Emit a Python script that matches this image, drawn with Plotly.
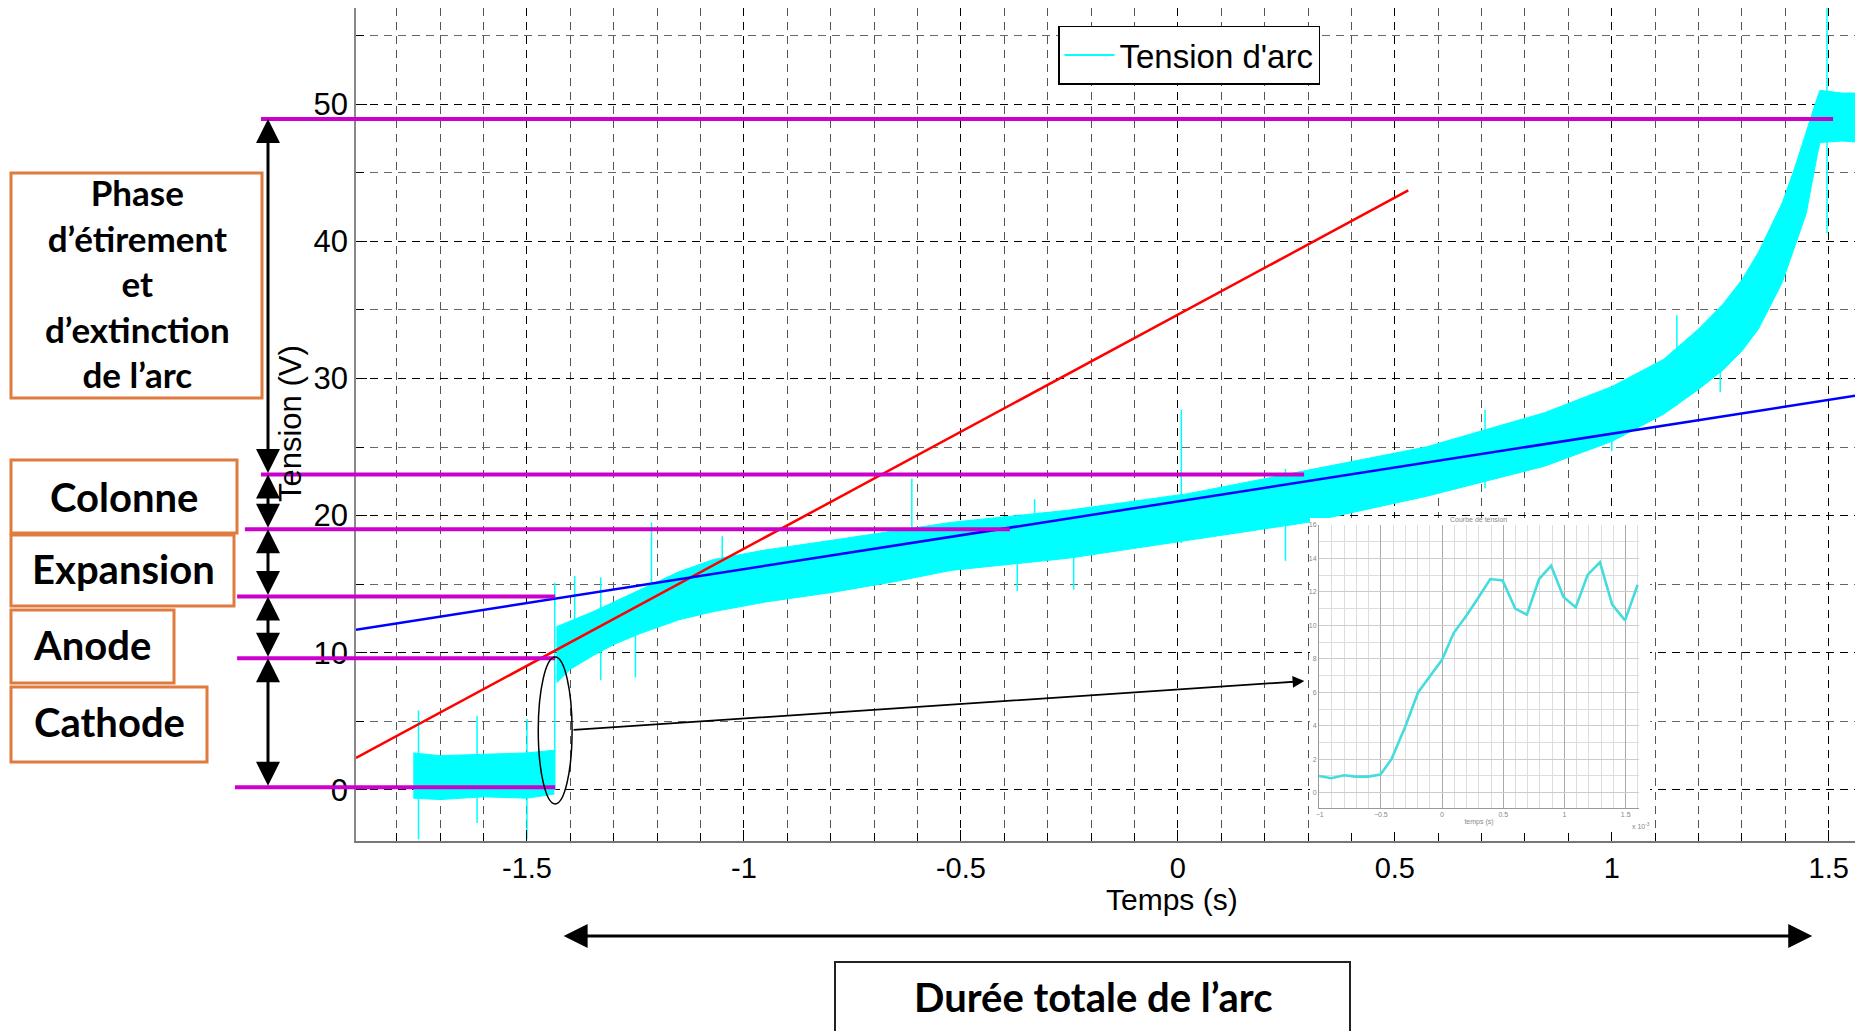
import plotly.graph_objects as go

# ---------------- axes ----------------
T_RANGE = [-1.894, 1.579]
V_RANGE = [-3.72, 57.0]
x_tick_vals = [-1.5, -1, -0.5, 0, 0.5, 1, 1.5]
x_tick_text = ["-1.5", "-1", "-0.5", "0", "0.5", "1", "1.5"]
y_tick_vals = [0, 10, 20, 30, 40, 50]
y_tick_text = ["0", "10", "20", "30", "40", "50"]

# ---------------- arc voltage (noise band envelopes) ----------------
cath_t = [-1.762, -1.70, -1.60, -1.50, -1.437]
cath_lo = [-0.6, -0.7, -0.5, -0.6, -0.3]
cath_hi = [2.7, 2.5, 2.6, 2.7, 2.9]

arc_t = [-1.432, -1.40, -1.347, -1.30, -1.239, -1.15, -1.07, -0.95, -0.797, -0.65, -0.524,
         -0.25, 0.024, 0.298, 0.572, 0.845, 1.0, 1.12, 1.20, 1.256, 1.30, 1.338, 1.393,
         1.42, 1.448, 1.475, 1.48, 1.53, 1.579]
arc_lo = [7.8, 8.8, 9.8, 10.6, 11.4, 12.4, 13.0, 13.7, 14.4, 15.2, 16.0,
          16.9, 18.2, 19.5, 21.4, 23.6, 25.4, 27.4, 29.2, 30.6, 32.0, 33.6, 37.0,
          39.4, 42.0, 46.5, 47.2, 47.3, 47.2]
arc_hi = [11.9, 12.3, 13.0, 13.7, 14.6, 15.9, 16.8, 17.5, 18.2, 18.9, 19.5,
          20.4, 21.6, 23.3, 25.0, 27.5, 29.4, 31.4, 33.6, 35.4, 37.2, 39.2, 42.8,
          45.2, 48.0, 50.6, 51.0, 50.8, 50.8]

spike_t = [-1.75, -1.615, -1.50, -1.436, -1.39, -1.33, -1.25, -1.213, -1.05, -0.613, -0.37,
           -0.33, -0.24, 0.008, 0.248, 0.708, 1.0, 1.15, 1.25, 1.496]
spike_lo = [-3.6, -2.4, -3.6, 0.0, 9.0, 8.0, 8.2, 13.0, 14.0, 16.0, 14.5,
            17.0, 14.6, 18.0, 16.7, 22.0, 24.7, 28.0, 29.0, 40.6]
spike_hi = [5.8, 5.4, 5.2, 15.1, 15.6, 15.5, 13.0, 19.5, 18.5, 22.7, 18.0,
            21.2, 19.0, 27.7, 23.4, 27.7, 28.0, 34.6, 33.0, 57.0]

# ---------------- fitted lines ----------------
red_t = [-1.894, 0.531]
red_v = [2.33, 43.7]
blue_t = [-1.894, 1.579]
blue_v = [11.68, 28.83]

# ---------------- phase boundaries ----------------
phase_levels = [48.9, 23.0, 19.0, 14.1, 9.6, 0.2]
phase_start_t = [-2.113, -2.113, -2.150, -2.168, -2.168, -2.173]
phase_end_t = [1.51, 0.291, -0.387, -1.435, -1.435, -1.435]
phase_names = ["Phase<br>d’étirement<br>et<br>d’extinction<br>de l’arc", "Colonne", "Expansion", "Anode", "Cathode"]

# ---------------- inset (zoom on the arc ignition) ----------------
inset_t = [-1.005, -0.905, -0.80, -0.707, -0.603, -0.503, -0.413, -0.30, -0.196, -0.095,
           0.0, 0.095, 0.204, 0.30, 0.394, 0.495, 0.598, 0.693, 0.793, 0.891,
           0.992, 1.092, 1.19, 1.29, 1.39, 1.495, 1.598]
inset_v = [1.0, 0.86, 1.04, 0.96, 0.96, 1.08, 2.0, 3.95, 5.99, 7.0,
           7.94, 9.54, 10.64, 11.7, 12.77, 12.69, 11.0, 10.64, 12.77, 13.57,
           11.7, 11.08, 13.03, 13.77, 11.24, 10.3, 12.43]
inset_x_ticks = [-1, -0.5, 0, 0.5, 1, 1.5]
inset_y_ticks = [0, 2, 4, 6, 8, 10, 12, 14, 16]

OFF = 8                      # page body margin
W, H = 1863 - OFF, 1031 - OFF
ML, MR, MT, MB = 356 - OFF, 0, 0, H - (841 - OFF)
PW, PH = W - ML - MR, H - MT - MB


def px_x(p):
    """screen pixel x -> paper"""
    return (p - OFF - ML) / PW


def px_y(p):
    """screen pixel y -> paper"""
    return 1 - (p - OFF - MT) / PH


def t_to_paper(t):
    return (t - T_RANGE[0]) / (T_RANGE[1] - T_RANGE[0])


FONT = "Liberation Sans, Arial, sans-serif"
BOLD = "Lato, Calibri, sans-serif"
CYAN = "#00FFFF"
MAG = "#CC00CC"
ORANGE = "#E07B3F"

fig = go.Figure()

# cathode band
fig.add_trace(go.Scatter(x=cath_t, y=cath_lo, mode="lines", line=dict(color=CYAN, width=1),
                         showlegend=False, hoverinfo="skip"))
fig.add_trace(go.Scatter(x=cath_t, y=cath_hi, mode="lines", line=dict(color=CYAN, width=1),
                         fill="tonexty", fillcolor=CYAN, showlegend=False, hoverinfo="skip"))
# main band
fig.add_trace(go.Scatter(x=arc_t, y=arc_lo, mode="lines", line=dict(color=CYAN, width=1),
                         showlegend=False, hoverinfo="skip"))
fig.add_trace(go.Scatter(x=arc_t, y=arc_hi, mode="lines", line=dict(color=CYAN, width=1),
                         fill="tonexty", fillcolor=CYAN, showlegend=False, hoverinfo="skip"))
# spikes
sx, sy = [], []
for t, lo, hi in zip(spike_t, spike_lo, spike_hi):
    sx += [t, t, None]
    sy += [lo, hi, None]
fig.add_trace(go.Scatter(x=sx, y=sy, mode="lines", line=dict(color=CYAN, width=1.5),
                         showlegend=False, hoverinfo="skip"))
# legend entry
fig.add_trace(go.Scatter(x=[None], y=[None], mode="lines", name="Tension d'arc",
                         line=dict(color=CYAN, width=2)))
# fitted lines
fig.add_trace(go.Scatter(x=red_t, y=red_v, mode="lines", line=dict(color="#FF0000", width=2.5),
                         showlegend=False))
fig.add_trace(go.Scatter(x=blue_t, y=blue_v, mode="lines", line=dict(color="#0000FF", width=2.5),
                         showlegend=False))

# white background for inset picture (separate subplot gets its own bg)
fig.add_trace(go.Scatter(x=[None], y=[None], xaxis="x2", yaxis="y2", showlegend=False))
# inset curve
fig.add_trace(go.Scatter(x=inset_t, y=inset_v, xaxis="x3", yaxis="y3", mode="lines",
                         line=dict(color="#45DCDC", width=2.6), showlegend=False))

grid_major = dict(gridcolor="#000000", gridwidth=1.3, griddash="8px,6px")
grid_minor = dict(gridcolor="#555555", gridwidth=1, griddash="8px,6px")

fig.update_layout(
    width=W, height=H,
    margin=dict(l=ML, r=MR, t=MT, b=MB, autoexpand=False),
    paper_bgcolor="white", plot_bgcolor="white",
    font=dict(family=FONT, color="black"),
    xaxis=dict(range=T_RANGE, domain=[0, 1], tickmode="array", tickvals=x_tick_vals, ticktext=x_tick_text,
               ticks="inside", ticklen=11, tickcolor="#000", tickwidth=1.3,
               tickfont=dict(size=29, family=FONT), showline=True, linecolor="#777777", linewidth=2,
               zeroline=False, showgrid=True, ticklabelstandoff=0, **grid_major,
               minor=dict(tickmode="linear", tick0=0, dtick=0.1, ticks="inside", ticklen=8,
                          tickcolor="#000", showgrid=True, **grid_minor)),
    yaxis=dict(range=V_RANGE, domain=[0, 1], tickmode="array", tickvals=y_tick_vals, ticktext=y_tick_text,
               ticks="inside", ticklen=11, tickcolor="#000", tickwidth=1.3,
               tickfont=dict(size=31, family=FONT), showline=True, linecolor="#888888", linewidth=1.5,
               zeroline=False, showgrid=True, ticklabelstandoff=0, **grid_major,
               minor=dict(tickmode="linear", tick0=0, dtick=5, ticks="inside", ticklen=8,
                          tickcolor="#000", showgrid=True, gridcolor="#666666", gridwidth=1,
                          griddash="8px,6px")),
    xaxis2=dict(domain=[px_x(1310), px_x(1650)], range=[0, 1], visible=False, anchor="y2"),
    yaxis2=dict(domain=[px_y(832), px_y(518)], range=[0, 1], visible=False, anchor="x2"),
    xaxis3=dict(domain=[px_x(1319), px_x(1639)], range=[-1.005, 1.609], anchor="y3",
                tickvals=inset_x_ticks, ticks="", tickfont=dict(size=7, color="#888"),
                showline=True, linecolor="#999", linewidth=1, zeroline=False,
                showgrid=True, gridcolor="#AAAAAA", gridwidth=1,
                minor=dict(tickmode="linear", tick0=0, dtick=0.1, showgrid=True, gridcolor="#DDDDDD"),
                title=dict(text="temps (s)", font=dict(size=7, color="#888"), standoff=2)),
    yaxis3=dict(domain=[px_y(807.7), px_y(525)], range=[-0.9, 16], anchor="x3",
                tickvals=inset_y_ticks, ticks="", tickfont=dict(size=7, color="#888"),
                showline=True, linecolor="#999", linewidth=1, zeroline=False,
                showgrid=True, gridcolor="#CCCCCC", gridwidth=1,
                minor=dict(tickmode="linear", tick0=0, dtick=1, showgrid=True, gridcolor="#DDDDDD")),
    legend=dict(x=px_x(1058), y=px_y(55), xanchor="left", yanchor="middle",
                bgcolor="white", bordercolor="black", borderwidth=1.5,
                font=dict(size=33, family=FONT), itemwidth=50, tracegroupgap=0),
)

shapes = []
annotations = []

# magenta phase boundaries
for lvl, t0, t1 in zip(phase_levels, phase_start_t, phase_end_t):
    shapes.append(dict(type="line", xref="paper", yref="y", x0=t_to_paper(t0), x1=t_to_paper(t1),
                       y0=lvl, y1=lvl, line=dict(color=MAG, width=4), layer="above"))

# vertical double arrows between boundaries
for top, bot in zip(phase_levels[:-1], phase_levels[1:]):
    annotations.append(dict(xref="paper", yref="y", x=px_x(268), y=top, ax=0, ay=bot,
                            axref="pixel", ayref="y", showarrow=True, arrowhead=2, startarrowhead=2,
                            arrowside="end+start", arrowsize=1.6, arrowwidth=3, arrowcolor="black",
                            text=""))

# orange boxes with labels
boxes = [(11, 173, 262, 398), (11, 460, 237, 533), (11, 535, 234, 606), (11, 610, 174, 683), (11, 687, 207, 762)]
for (x0, y0, x1, y1) in boxes:
    shapes.append(dict(type="rect", xref="paper", yref="paper", x0=px_x(x0), x1=px_x(x1),
                       y0=px_y(y0), y1=px_y(y1), line=dict(color=ORANGE, width=3),
                       fillcolor="white", layer="above"))
label_pos = [(137, 283), (124, 497), (123, 569), (92, 645), (109, 722)]
label_size = [35, 40, 40, 40, 40]
for txt, (xx, yy), fs in zip(phase_names, label_pos, label_size):
    annotations.append(dict(xref="paper", yref="paper", x=px_x(xx), y=px_y(yy), text="<b>" + txt + "</b>",
                            showarrow=False, font=dict(size=fs, family=BOLD, color="black"),
                            xanchor="center", yanchor="middle", align="center"))

# ellipse around ignition
shapes.append(dict(type="circle", xref="x", yref="y", x0=-1.474, x1=-1.396, y0=-1.02, y1=9.69,
                   line=dict(color="black", width=1.5), layer="above"))
# arrow from ellipse to inset
annotations.append(dict(xref="x", yref="y", x=0.2915, y=7.94, axref="x", ayref="y", ax=-1.396, ay=4.37,
                        showarrow=True, arrowhead=2, arrowsize=1.3, arrowwidth=1.8, arrowcolor="black", text=""))

# inset title and exponent
annotations.append(dict(xref="paper", yref="paper", x=px_x(1478), y=px_y(520), text="Courbe de tension",
                        showarrow=False, font=dict(size=7, color="#888"), xanchor="center", yanchor="middle"))
annotations.append(dict(xref="paper", yref="paper", x=px_x(1641), y=px_y(826), text="x 10<sup>-3</sup>",
                        showarrow=False, font=dict(size=7, color="#888"), xanchor="center", yanchor="middle"))

# axis titles
annotations.append(dict(xref="x", yref="paper", x=-0.013, y=px_y(899), text="Temps (s)", showarrow=False,
                        font=dict(size=30, family=FONT), xanchor="center", yanchor="middle"))
annotations.append(dict(xref="paper", yref="paper", x=px_x(290), y=px_y(424), text="Tension (V)",
                        showarrow=False, textangle=-90, font=dict(size=31, family=FONT),
                        xanchor="center", yanchor="middle"))

# total arc duration arrow and box
annotations.append(dict(xref="x", yref="paper", x=1.462, y=px_y(936), axref="x", ayref="pixel",
                        ax=-1.419, ay=0, showarrow=True, arrowhead=2, startarrowhead=2,
                        arrowside="end+start", arrowsize=1.6, arrowwidth=3, arrowcolor="black", text=""))
shapes.append(dict(type="rect", xref="paper", yref="paper", x0=px_x(835), x1=px_x(1350),
                   y0=px_y(962), y1=px_y(1045), line=dict(color="#222", width=2), fillcolor="white",
                   layer="above"))
annotations.append(dict(xref="paper", yref="paper", x=px_x(1093), y=px_y(997),
                        text="<b>Durée totale de l’arc</b>", xanchor="center", yanchor="middle",
                        showarrow=False, font=dict(size=40, family=BOLD, color="black")))

fig.update_layout(shapes=shapes, annotations=annotations)
fig.write_html("out.html")
